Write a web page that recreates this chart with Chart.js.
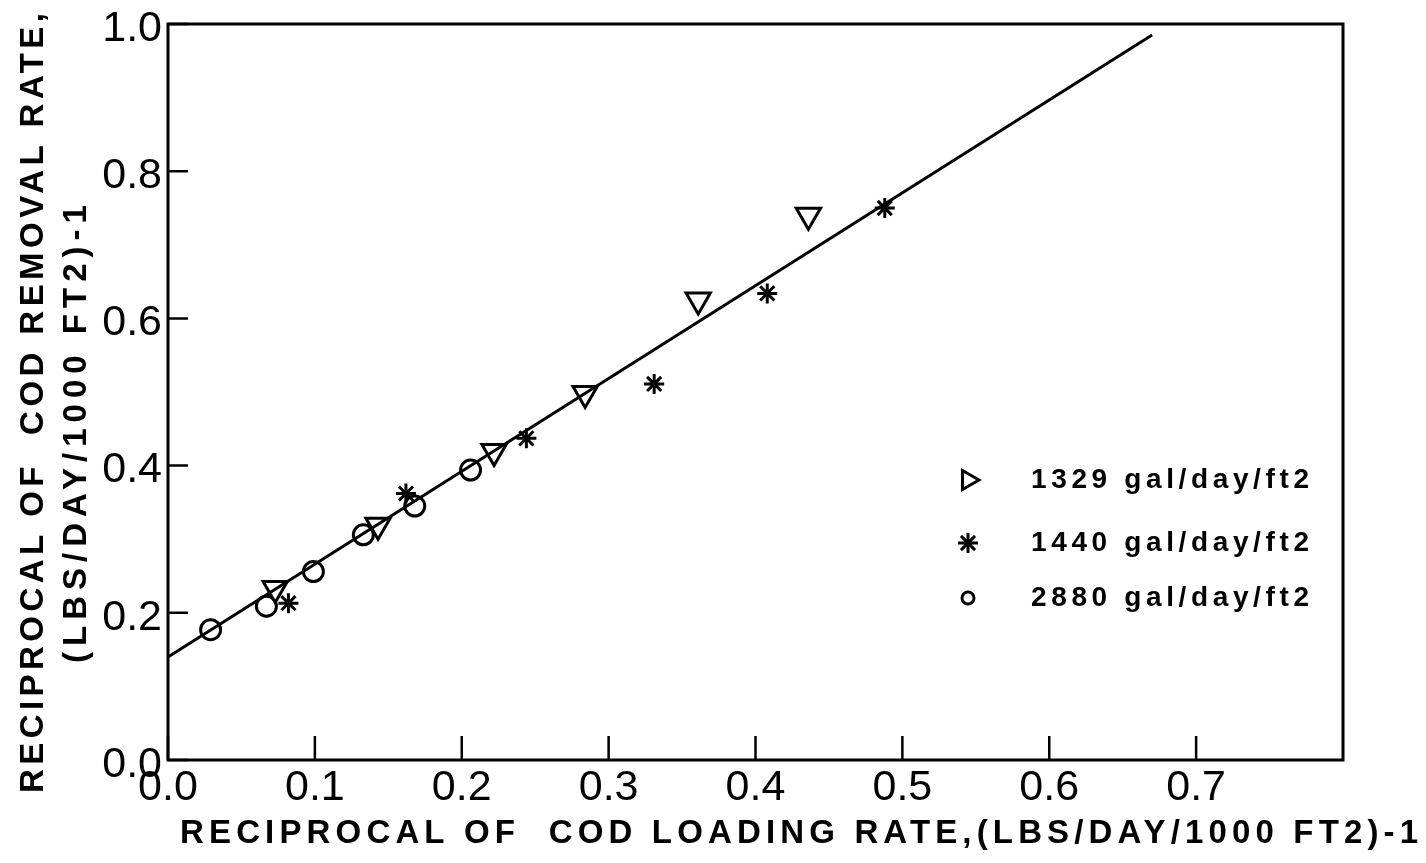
<!DOCTYPE html>
<html>
<head>
<meta charset="utf-8">
<title>COD removal vs loading</title>
<script src="https://cdn.jsdelivr.net/npm/chart.js@4.4.1/dist/chart.umd.min.js"></script>
<style>
  html, body { margin: 0; padding: 0; background: #fff; }
  #wrap { width: 1426px; height: 863px; }
</style>
</head>
<body>
<div id="wrap"><canvas id="codChart" width="1426" height="863"></canvas></div>
<script>
// axis ticks
const xTicks = [0.0, 0.1, 0.2, 0.3, 0.4, 0.5, 0.6, 0.7];
const yTicks = [0.0, 0.2, 0.4, 0.6, 0.8, 1.0];

// 1329 gal/day/ft2
const q1329X = [0.073, 0.143, 0.222, 0.284, 0.361, 0.436];
const q1329Y = [0.233, 0.319, 0.419, 0.498, 0.625, 0.740];

// 1440 gal/day/ft2
const q1440X = [0.082, 0.162, 0.244, 0.331, 0.408, 0.488];
const q1440Y = [0.213, 0.362, 0.437, 0.511, 0.634, 0.750];

// 2880 gal/day/ft2
const q2880X = [0.029, 0.067, 0.099, 0.133, 0.168, 0.206];
const q2880Y = [0.177, 0.209, 0.256, 0.306, 0.345, 0.394];

// fitted line
const fitX = [0.0, 0.670];
const fitY = [0.140, 0.985];

const seriesNames = ['1329 gal/day/ft2', '1440 gal/day/ft2', '2880 gal/day/ft2'];

const xTitle = 'RECIPROCAL OF  COD LOADING RATE,(LBS/DAY/1000 FT2)-1';
const yTitle1 = 'RECIPROCAL OF  COD REMOVAL RATE,';
const yTitle2 = '(LBS/DAY/1000 FT2)-1';

function pts(xs, ys) {
  return xs.map((x, i) => ({ x: x, y: ys[i] }));
}

const tickFont = { family: "'Liberation Sans', Arial, sans-serif", size: 43 };

// stretch letter spacing so a line spans a given length
function spacedText(ctx, text, x, y, target) {
  ctx.letterSpacing = '0px';
  const w = ctx.measureText(text).width;
  const ls = (target - w) / (text.length - 1);
  ctx.letterSpacing = ls.toFixed(2) + 'px';
  ctx.fillText(text, x, y);
  ctx.letterSpacing = '0px';
}

const framePlugin = {
  id: 'frame',
  afterDatasetsDraw(chart) {
    const ctx = chart.ctx;
    const a = chart.chartArea;
    const xs = chart.scales.x;
    const ys = chart.scales.y;
    ctx.save();
    ctx.strokeStyle = '#000';
    ctx.lineWidth = 3;
    ctx.strokeRect(a.left, a.top, a.right - a.left, a.bottom - a.top);

    // inward tick marks
    ctx.lineWidth = 2.5;
    ctx.beginPath();
    xTicks.forEach(v => {
      const px = xs.getPixelForValue(v);
      ctx.moveTo(px, a.bottom);
      ctx.lineTo(px, a.bottom - 24);
    });
    yTicks.forEach(v => {
      const py = ys.getPixelForValue(v);
      ctx.moveTo(a.left, py);
      ctx.lineTo(a.left + 20, py);
    });
    ctx.stroke();

    // axis titles
    ctx.fillStyle = '#000';
    ctx.font = "bold 33px 'Liberation Sans', Arial, sans-serif";
    ctx.textBaseline = 'middle';
    ctx.textAlign = 'left';
    spacedText(ctx, xTitle, 180, 834, 1238);

    ctx.save();
    ctx.translate(34, 403);
    ctx.rotate(-Math.PI / 2);
    spacedText(ctx, yTitle1, -390, 0, 780);
    ctx.restore();

    ctx.save();
    ctx.translate(77, 434);
    ctx.rotate(-Math.PI / 2);
    spacedText(ctx, yTitle2, -229, 0, 458);
    ctx.restore();

    // legend
    const rows = [480, 543, 598];
    const lx = 968;
    chart.data.datasets.slice(1).forEach((ds, i) => {
      ctx.strokeStyle = '#000';
      ctx.fillStyle = '#fff';
      ctx.lineWidth = 3;
      const style = {
        pointStyle: ds.pointStyle,
        radius: i === 0 ? 11 : (i === 2 ? 6 : ds.pointRadius),
        rotation: i === 0 ? 90 : 0,
        borderWidth: 3
      };
      Chart.helpers.drawPoint(ctx, style, lx, rows[i]);
      ctx.fillStyle = '#000';
      ctx.font = "bold 28px 'Liberation Sans', Arial, sans-serif";
      spacedText(ctx, seriesNames[i], 1031, rows[i], 278);
    });
    ctx.restore();
  }
};

const ctx = document.getElementById('codChart').getContext('2d');
new Chart(ctx, {
  type: 'scatter',
  data: {
    datasets: [
      {
        type: 'line',
        label: 'fit',
        data: pts(fitX, fitY),
        borderColor: '#000',
        borderWidth: 3,
        pointRadius: 0,
        fill: false
      },
      {
        label: seriesNames[0],
        data: pts(q1329X, q1329Y),
        pointStyle: 'triangle',
        rotation: 180,
        pointRadius: 14,
        borderColor: '#000',
        backgroundColor: '#fff',
        borderWidth: 3
      },
      {
        label: seriesNames[1],
        data: pts(q1440X, q1440Y),
        pointStyle: 'star',
        pointRadius: 10,
        borderColor: '#000',
        backgroundColor: '#000',
        borderWidth: 3
      },
      {
        label: seriesNames[2],
        data: pts(q2880X, q2880Y),
        pointStyle: 'circle',
        pointRadius: 10,
        borderColor: '#000',
        backgroundColor: 'rgba(255,255,255,0)',
        borderWidth: 3
      }
    ]
  },
  options: {
    responsive: false,
    animation: false,
    layout: { padding: { left: 0, top: 24, right: 83, bottom: 0 } },
    plugins: {
      legend: { display: false },
      tooltip: { enabled: false }
    },
    scales: {
      x: {
        type: 'linear',
        min: 0,
        max: 0.8,
        afterBuildTicks: s => { s.ticks = xTicks.map(v => ({ value: v })); },
        afterFit: s => { s.height = 103; s.paddingLeft = 0; s.paddingRight = 0; },
        grid: { display: false, drawTicks: false },
        border: { display: false },
        ticks: {
          color: '#000',
          font: tickFont,
          padding: 2,
          maxRotation: 0,
          callback: v => v.toFixed(1)
        }
      },
      y: {
        type: 'linear',
        min: 0,
        max: 1,
        afterBuildTicks: s => { s.ticks = yTicks.map(v => ({ value: v })); },
        afterFit: s => { s.width = 168; s.paddingTop = 0; s.paddingBottom = 0; },
        grid: { display: false, drawTicks: false },
        border: { display: false },
        ticks: {
          color: '#000',
          font: tickFont,
          padding: 6,
          labelOffset: 5,
          callback: v => v.toFixed(1)
        }
      }
    }
  },
  plugins: [framePlugin]
});
</script>
</body>
</html>
